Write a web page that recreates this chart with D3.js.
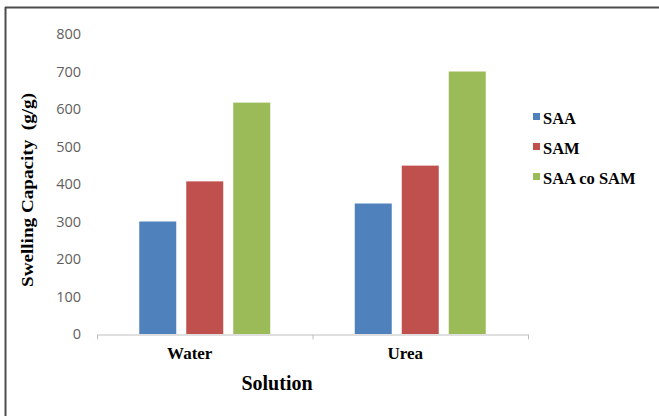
<!DOCTYPE html>
<html>
<head>
<meta charset="utf-8">
<script src="https://cdn.jsdelivr.net/npm/d3@7/dist/d3.min.js"></script>
<style>
  html, body { margin: 0; padding: 0; background: #fff; }
  svg { display: block; }
</style>
</head>
<body>
<svg id="chart" width="659" height="416"></svg>
<script>
// Swelling capacity of the three hydrogels in each solution
const solutions = ["Water", "Urea"];
const seriesNames = ["SAA", "SAM", "SAA co SAM"];
const saaValues = [300, 348];
const samValues = [407, 449];
const saaCoSamValues = [617, 700];
const yTicks = [0, 100, 200, 300, 400, 500, 600, 700, 800];
const colors = ["#4F81BD", "#C0504D", "#9BBB59"];

const seriesValues = [saaValues, samValues, saaCoSamValues];
const rows = [];
solutions.forEach((s, i) => {
  seriesNames.forEach((n, j) => rows.push({ solution: s, series: n, value: seriesValues[j][i] }));
});

const svg = d3.select("#chart");
const serif = "'Liberation Serif', 'Times New Roman', serif";

// outer frame
svg.append("line").attr("x1", 5).attr("x2", 659).attr("y1", 7.5).attr("y2", 7.5)
  .attr("stroke", "#4d4d4d").attr("stroke-width", 2);
svg.append("line").attr("x1", 5.5).attr("x2", 5.5).attr("y1", 7).attr("y2", 416)
  .attr("stroke", "#4d4d4d").attr("stroke-width", 2);

const x0 = d3.scaleBand().domain(solutions).range([97, 528]);
const x1 = d3.scaleBand().domain(seriesNames).range([0, x0.bandwidth()])
  .paddingInner(10 / 47).paddingOuter(0.899);
const y = d3.scaleLinear().domain([0, 800]).range([334, 34]);
const color = d3.scaleOrdinal().domain(seriesNames).range(colors);

// y tick labels (no axis line)
const yAxis = svg.append("g").attr("transform", "translate(86,0)")
  .call(d3.axisLeft(y).tickValues(yTicks).tickSize(0).tickPadding(5));
yAxis.select(".domain").remove();
yAxis.selectAll("text")
  .attr("fill", "#5f5f5f")
  .style("font-family", "'Open Sans', 'Liberation Sans', sans-serif")
  .style("font-size", "14.5px");

// bars
svg.append("g").selectAll("rect").data(rows).join("rect")
  .attr("x", d => x0(d.solution) + x1(d.series))
  .attr("width", x1.bandwidth())
  .attr("y", d => y(d.value))
  .attr("height", d => y(0) - y(d.value))
  .attr("fill", d => color(d.series));

// x axis
const xAxis = svg.append("g").attr("transform", "translate(0,334.5)")
  .call(d3.axisBottom(x0).tickSize(0).tickPadding(12));
xAxis.select(".domain").attr("stroke", "#bfbfbf").attr("stroke-width", 1.2);
xAxis.selectAll("text")
  .attr("fill", "#000")
  .attr("dx", -15)
  .style("font-family", serif)
  .style("font-weight", "bold")
  .style("font-size", "17px");
// category boundary ticks
const boundaries = solutions.map(s => x0(s)).concat([x0.range()[1]]);
xAxis.selectAll(".boundary").data(boundaries).join("line")
  .attr("class", "boundary")
  .attr("x1", d => d + 0.5).attr("x2", d => d + 0.5)
  .attr("y1", 0).attr("y2", 5)
  .attr("stroke", "#bfbfbf");

// axis titles
svg.append("text")
  .attr("x", 277).attr("y", 390)
  .attr("text-anchor", "middle")
  .style("font-family", serif).style("font-weight", "bold").style("font-size", "20px")
  .text("Solution");

svg.append("text")
  .attr("transform", "translate(33,190) rotate(-90)")
  .attr("text-anchor", "middle")
  .attr("textLength", 194).attr("lengthAdjust", "spacingAndGlyphs")
  .style("font-family", serif).style("font-weight", "bold").style("font-size", "16px")
  .style("white-space", "pre")
  .text("Swelling Capacity  (g/g)");

// legend
const legend = svg.append("g").selectAll("g").data(seriesNames).join("g")
  .attr("transform", (d, i) => `translate(533,${113 + i * 30})`);
legend.append("rect").attr("width", 7).attr("height", 7).attr("fill", d => color(d));
legend.append("text")
  .attr("x", 10).attr("y", 11)
  .style("font-family", serif).style("font-weight", "bold").style("font-size", "16.5px")
  .text(d => d);
</script>
</body>
</html>
